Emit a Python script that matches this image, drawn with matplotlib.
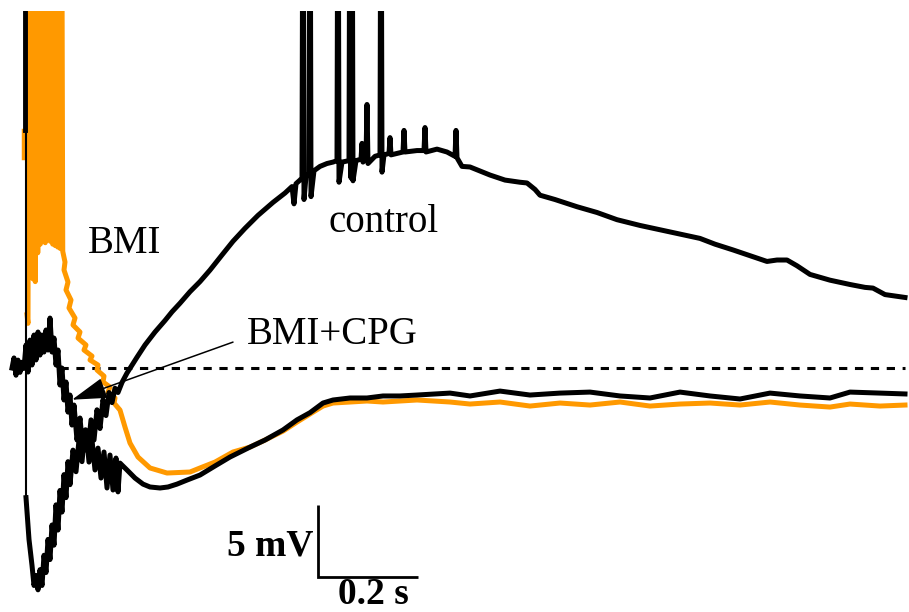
import matplotlib
matplotlib.use('Agg')
import matplotlib.pyplot as plt

# time in ms after stimulus, potential in mV relative to rest (dashed line)

## resting part before the stimulus (both black traces overlap here)
rest_t = [-20, -16, -12, -8, -4, 0, 4]
rest_v = [0, 0.7, -0.5, 0.55, -0.3, 0.4, 0]

## stimulus artifact
stim_thick_t = [6, 6]
stim_thick_v = [16.5, 30]
stim_t = [7, 7]
stim_v = [30, -9.0]
bmi_stim_t = [1, 1]
bmi_stim_v = [14.6, 16.5]

## control
control_t = [8, 14, 20, 24, 28, 32, 36, 40, 44, 48, 52, 56, 60, 64, 68, 72, 76, 80,
             84, 88, 92, 96, 102, 108, 114, 120, 126, 132, 138, 144, 150, 156, 162,
             168, 174, 180, 186, 192, 200, 210, 220, 230, 246, 266, 286, 300, 316,
             336, 356, 376, 400, 422, 446, 472, 502, 526, 540, 544, 548, 556,
             560, 562, 564, 568, 574, 576, 578, 584, 596, 610, 622, 630, 632, 634,
             640, 654, 656, 658, 660, 662, 668, 678, 680, 682, 688, 690, 692, 706,
             716, 718, 720, 724, 734, 736, 738, 762, 764, 766, 790, 804, 806, 808,
             830, 850, 866, 868, 870, 880, 896,
             922, 936, 966, 996, 1010, 1026, 1036, 1066, 1110, 1150, 1190, 1236,
             1276, 1316, 1356, 1386, 1422, 1456, 1490, 1510, 1530, 1550, 1576,
             1616, 1656, 1686, 1702, 1726, 1766]
control_v = [-9.0, -11.9, -13.7, -15.1, -14.4, -15.4, -14.0, -15.1, -13.0, -14.2,
             -11.9, -13.3, -10.9, -12.3, -9.5, -11.25, -8.5, -10.0, -7.4, -9.0,
             -6.5, -8.1, -5.7, -7.2, -5.0, -6.5, -4.3, -5.7, -3.6, -5.0, -2.9, -4.2,
             -2.2, -3.3, -1.7, -2.4, -1.4, -1.7, -1.0, -0.35, 0.2, 0.75, 1.6, 2.5,
             3.3, 3.9, 4.5, 5.3, 6.0, 6.8, 7.85, 8.8, 9.7, 10.6, 11.5, 12.15, 12.6,
             11.4, 12.8, 13.05,
             13.2, 40, 11.7, 13.3, 13.5, 40, 11.9, 13.7, 14.0, 14.2, 14.3, 14.4, 40,
             12.9, 14.3, 14.4, 40, 13.2, 40, 13.0, 14.4, 14.5, 15.6, 14.3, 14.6,
             18.3, 14.2, 14.7, 14.8, 40, 13.6, 14.8, 14.9, 16.0, 14.8, 15.0, 16.5,
             15.0, 15.1, 15.1, 16.7, 15.0, 15.2, 15.0, 14.7, 16.5, 14.6, 14.0, 13.96,
             13.6, 13.4, 13.05, 12.9, 12.85, 12.4, 12.0, 11.7, 11.2, 10.8, 10.3, 9.9,
             9.6, 9.3, 9.0, 8.6, 8.2, 7.8, 7.4, 7.5, 7.5, 7.1, 6.5, 6.1, 5.8, 5.6,
             5.55, 5.1, 4.9]

## BMI+CPG
cpg_t = [4, 8, 12, 16, 20, 24, 28, 32, 36, 40, 44, 48, 52, 56, 60, 64, 68, 72, 76,
         80, 84, 88, 92, 96, 100, 104, 110, 116, 122, 128, 134, 140, 146, 152, 158,
         164, 170, 176, 182, 188, 192, 196, 200, 210, 226, 242, 256, 276, 292, 310,
         330, 356, 386, 416, 456, 486, 522, 550, 576, 602, 622, 656, 690, 722, 756,
         790, 856, 896, 956, 1016, 1076, 1136, 1196, 1256, 1316, 1376, 1436, 1496,
         1556, 1616, 1656, 1716, 1766]
cpg_v = [0, 1.6, -0.28, 1.94, 0.21, 2.29, 0.56, 2.5, 0.9, 2.29, 1.11, 2.64, 1.25,
         3.47, 1.11, 2.08, 0.21, 1.25, -1.18, 0, -2.22, -0.97, -3.06, -1.875, -3.96,
         -2.57, -5.0, -3.47, -5.83, -4.3, -6.53, -5.0, -7.08, -5.56, -7.64, -5.83,
         -8.33, -6.04, -8.47, -6.25, -8.6, -6.6, -6.74, -7.08, -7.64, -8.06, -8.26,
         -8.33, -8.26, -8.06, -7.78, -7.43, -6.8, -6.18, -5.49, -5.0, -4.3, -3.6,
         -3.1, -2.43, -2.22, -2.08, -2.08, -1.94, -1.94, -1.875, -1.74, -1.94, -1.6,
         -1.875, -1.74, -1.67, -1.94, -2.08, -1.67, -1.94, -2.15, -1.74, -1.94,
         -2.08, -1.67, -1.74, -1.8]

## BMI: burst of spikes (trough / peak pairs), then the slow decay
bmi_t = [10, 12, 14, 16.5, 19, 21.5, 24, 26.5, 29, 31.5, 34, 36.5, 39, 41.5, 44,
         46.5, 49, 51.5, 54, 56.5, 59, 61.5, 64, 66.5, 69, 71.5, 74, 76.5, 79, 81.5,
         86, 84, 92, 88, 98, 94, 106, 102, 116, 112, 128, 124, 140, 136, 152,
         150, 164, 162, 176, 172, 186, 184, 196, 206, 216, 232, 256, 290, 336, 356,
         386, 422, 456, 486, 522, 550, 576, 602, 622, 656, 690, 722, 756, 790, 856,
         896, 956, 1016, 1076, 1136, 1196, 1256, 1316, 1376, 1436, 1496, 1556,
         1616, 1656, 1716, 1766]
bmi_v = [3.7, 3.1, 36, 6.5, 40, 6.2, 33, 6.0, 45, 8.0, 30, 8.6, 38, 8.9, 42, 8.7,
         35, 9.0, 44, 8.8, 29, 8.6, 37, 8.5, 22, 8.4, 39, 8.3, 41, 8.1,
         7.36, 6.81, 5.97, 5.42, 4.72, 4.17, 3.47, 2.99, 2.5, 2.08, 1.6, 1.25, 0.83,
         0.56, 0.21, -0.14, -0.56, -0.97, -1.32, -1.67, -2.08, -2.43, -2.92, -4.1,
         -5.21, -6.18, -6.94, -7.29, -7.22, -6.94, -6.53, -5.83, -5.49, -5.0,
         -4.38, -3.75, -3.19, -2.64, -2.43, -2.36, -2.29, -2.36, -2.29, -2.22,
         -2.36, -2.5, -2.36, -2.64, -2.43, -2.57, -2.36, -2.64, -2.5, -2.43, -2.57,
         -2.36, -2.57, -2.71, -2.5, -2.64, -2.57]

## baseline and scale bar
baseline_t = [76, 1766]
scale_t0, scale_v0 = 592, -14.5
scale_dt, scale_dv = 200, 5

ORANGE = '#ff9900'
SERIF = ['Liberation Serif', 'DejaVu Serif']
LW = 3.6

fig = plt.figure(figsize=(9.09, 6.12), dpi=100)
ax = fig.add_axes([0, 0, 1, 601 / 612])
ax.set_xlim(-44, 1774)
ax.set_ylim(-16.94, 24.79)
ax.axis('off')

ax.plot(baseline_t, [0, 0], color='black', lw=2.2, dashes=(2.7, 2.5),
        dash_capstyle='butt')

ax.plot(bmi_stim_t, bmi_stim_v, color=ORANGE, lw=2.5)
ax.plot(bmi_t, bmi_v, color=ORANGE, lw=LW)

ax.plot(rest_t, rest_v, color='black', lw=LW)
ax.plot(stim_thick_t, stim_thick_v, color='black', lw=3.5)
ax.plot(stim_t, stim_v, color='black', lw=1.5)
ax.plot(control_t, control_v, color='black', lw=LW)
ax.plot(cpg_t, cpg_v, color='black', lw=LW)

# scale bar
ax.plot([scale_t0, scale_t0, scale_t0 + scale_dt],
        [scale_v0 + scale_dv, scale_v0, scale_v0], color='black', lw=2.0,
        solid_joinstyle='miter', solid_capstyle='butt')
ax.text(scale_t0 - 10, -12.99, '5 mV', ha='right', va='baseline',
        fontsize=27, fontweight='bold', family=SERIF)
ax.text(scale_t0 + scale_dt / 2 + 10, -16.35, '0.2 s', ha='center', va='baseline',
        fontsize=27, fontweight='bold', family=SERIF)

# labels
ax.text(132, 7.99, 'BMI', ha='left', va='baseline', fontsize=28, family=SERIF)
ax.text(614, 9.44, 'control', ha='left', va='baseline', fontsize=28, family=SERIF)
ax.text(450, 1.67, 'BMI+CPG', ha='left', va='baseline', fontsize=28, family=SERIF)
ax.annotate('', xy=(100, -2.2), xytext=(422, 1.8),
            arrowprops=dict(arrowstyle='-|>,head_length=1.0,head_width=0.3',
                            mutation_scale=22, lw=1.1, color='black',
                            shrinkA=0, shrinkB=0))

fig.savefig('out.png', dpi=100)
